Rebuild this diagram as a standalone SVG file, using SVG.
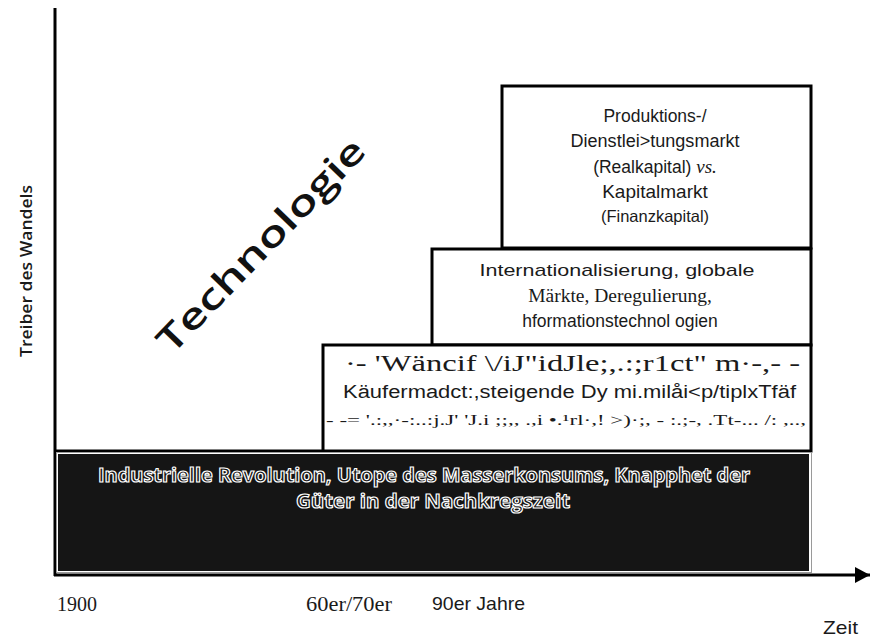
<svg xmlns="http://www.w3.org/2000/svg" width="871" height="640" viewBox="0 0 871 640">
<style>
.box{fill:#fff;stroke:#000;stroke-width:3}
.sans{font-family:"Liberation Sans",Arial,sans-serif;fill:#1a1a1a}
.serif{font-family:"Liberation Serif","Times New Roman",serif;fill:#1a1a1a}
.open{font-family:"Open Sans","DejaVu Sans",sans-serif}
.c{text-anchor:middle}
.hollow{font-family:"Open Sans","DejaVu Sans",sans-serif;font-weight:700;fill:#151515;stroke:#fff;stroke-width:1.2;text-anchor:middle}
</style>
<defs>
<marker id="arr" markerWidth="16" markerHeight="16" refX="15" refY="8" orient="auto" markerUnits="userSpaceOnUse">
<path d="M0,0 L15,8 L0,16 Z" fill="#000"/>
</marker>
</defs>
<rect width="871" height="640" fill="#fff"/>

<g id="connectors">
<line x1="55" y1="8" x2="55" y2="576" stroke="#000" stroke-width="3"/>
<line x1="54" y1="575" x2="870" y2="575" stroke="#000" stroke-width="3" marker-end="url(#arr)"/>
<line x1="55" y1="451" x2="812" y2="451" stroke="#000" stroke-width="3"/>
</g>

<g id="box-produktion">
<rect class="box" x="502" y="86" width="309" height="162"/>
<text class="sans c" x="655" y="122" font-size="17.5">Produktions-/</text>
<text class="sans c" x="655" y="147" font-size="17.5" textLength="169" lengthAdjust="spacingAndGlyphs">Dienstlei&gt;tungsmarkt</text>
<text class="sans c" x="655" y="173" font-size="17.5">(Realkapital) <tspan class="serif" font-style="italic" font-size="19">vs.</tspan></text>
<text class="sans c" x="655" y="198" font-size="19">Kapitalmarkt</text>
<text class="sans c" x="655" y="222" font-size="16.5">(Finanzkapital)</text>
</g>

<g id="box-international">
<rect class="box" x="432" y="249" width="379" height="96"/>
<text class="sans c" x="617" y="276" font-size="17" textLength="275" lengthAdjust="spacingAndGlyphs">Internationalisierung, globale</text>
<text class="serif c" x="620" y="302" font-size="19.5">Märkte,  Deregulierung,</text>
<text class="sans c" x="620" y="327" font-size="17.5">hformationstechnol ogien</text>
</g>

<g id="box-kaeufer">
<rect class="box" x="323" y="345" width="488" height="106"/>
<text class="serif" x="345" y="371" font-size="24" textLength="455" lengthAdjust="spacingAndGlyphs">·-  'Wäncif      \/iJ"idJle;,.:;r1ct" m·-,-    -</text>
<text class="sans" x="343" y="398" font-size="18" textLength="453" lengthAdjust="spacingAndGlyphs">Käufermadct:,steigende  Dy mi.milåi&lt;p/tiplxTfäf</text>
<text class="serif" x="326" y="425" font-size="15" textLength="480" lengthAdjust="spacingAndGlyphs">-  -=   '.:,,·-:..:j.J' 'J.i ;;,, .,i •.¹rl·,! &gt;)·;, - :.;-, .Tt-... /:     ,..,</text>
</g>

<g id="box-industrie">
<rect x="56.5" y="452.5" width="755" height="120" fill="#fff" stroke="#9a9a9a" stroke-width="1"/>
<rect x="58" y="454" width="751" height="117" fill="#151515"/>
<text class="hollow" x="424" y="482" font-size="20" textLength="652" lengthAdjust="spacingAndGlyphs">Industrielle Revolution, Utope des Masserkonsums, Knapphet der</text>
<text class="hollow" x="433" y="508" font-size="20" textLength="274" lengthAdjust="spacingAndGlyphs">Güter in der Nachkregszeit</text>
</g>

<g id="label-technologie">
<text class="open" x="0" y="0" transform="translate(270,254) rotate(-46)" font-size="36" font-weight="600" text-anchor="middle" fill="#111" textLength="282" lengthAdjust="spacingAndGlyphs">Technologie</text>
</g>

<g id="axis-labels">
<text class="open" transform="translate(32,271) rotate(-90)" font-size="17" font-weight="600" text-anchor="middle" fill="#1a1a1a" textLength="172" lengthAdjust="spacingAndGlyphs">Treiber des Wandels</text>
<text class="serif" x="57" y="611" font-size="20">1900</text>
<text class="serif" x="306" y="611" font-size="20" textLength="86" lengthAdjust="spacingAndGlyphs">60er/70er</text>
<text class="sans" x="432" y="610" font-size="19" textLength="93" lengthAdjust="spacingAndGlyphs">90er Jahre</text>
<text class="sans" x="823" y="634" font-size="19" textLength="35" lengthAdjust="spacingAndGlyphs">Zeit</text>
</g>
</svg>
